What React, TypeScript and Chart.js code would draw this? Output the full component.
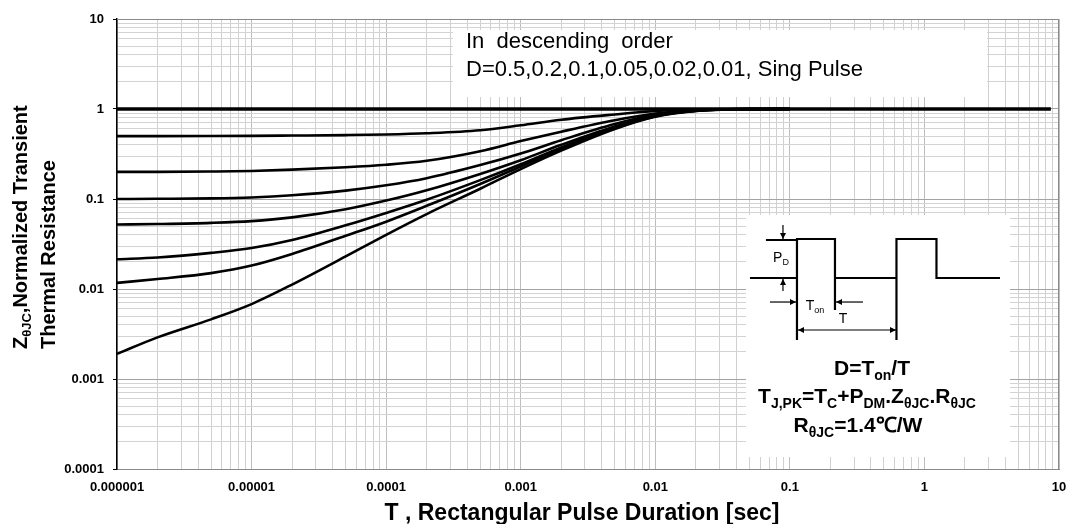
import React, { useEffect, useRef } from "react";
import { Chart, registerables } from "chart.js";

Chart.register(...registerables);

const FONT = "'Liberation Sans', Arial, Helvetica, sans-serif";

// ---- data ----
const pulseDurations = [1e-6, 2e-6, 5e-6, 1e-5, 2e-5, 5e-5, 1e-4, 2e-4, 5e-4, 1e-3, 2e-3, 5e-3, 1e-2, 2e-2, 5e-2, 1e-1];
const zD050 = [0.5, 0.5, 0.501, 0.503, 0.507, 0.513, 0.521, 0.537, 0.58, 0.66, 0.76, 0.87, 0.95, 0.99, 1.0, 1.0];
const zD020 = [0.2, 0.2, 0.202, 0.205, 0.212, 0.225, 0.24, 0.266, 0.34, 0.44, 0.56, 0.75, 0.89, 0.975, 1.0, 1.0];
const zD010 = [0.1, 0.1005, 0.1015, 0.104, 0.11, 0.124, 0.142, 0.17, 0.238, 0.32, 0.45, 0.68, 0.86, 0.965, 0.998, 1.0];
const zD005 = [0.052, 0.0527, 0.0543, 0.0568, 0.0625, 0.077, 0.096, 0.125, 0.19, 0.27, 0.4, 0.64, 0.845, 0.96, 0.997, 1.0];
const zD002 = [0.0214, 0.0224, 0.0252, 0.0285, 0.035, 0.051, 0.07, 0.098, 0.162, 0.243, 0.375, 0.62, 0.835, 0.955, 0.996, 1.0];
const zD001 = [0.0117, 0.0129, 0.015, 0.0182, 0.0245, 0.039, 0.056, 0.084, 0.147, 0.23, 0.36, 0.61, 0.83, 0.952, 0.995, 1.0];
const zSingle = [0.0019, 0.0029, 0.0046, 0.0068, 0.0112, 0.023, 0.04, 0.068, 0.13, 0.215, 0.345, 0.6, 0.82, 0.95, 0.995, 1.0];
const unityDurations = [1e-6, 8.7];
const unityValues = [1, 1];

const X_MIN_EXP = -6;
const X_MAX_EXP = 1;
const Y_MIN_EXP = -4;
const Y_MAX_EXP = 1;
const xTickLabels = ["0.000001", "0.00001", "0.0001", "0.001", "0.01", "0.1", "1", "10"];
const yTickLabels = ["0.0001", "0.001", "0.01", "0.1", "1", "10"];
const legendLines = ["In  descending  order", "D=0.5,0.2,0.1,0.05,0.02,0.01, Sing Pulse"];

type Seg = { t: string; sub?: boolean };
const yTitle1: Seg[] = [{ t: "Z" }, { t: "θJC", sub: true }, { t: ",Normalized Transient" }];
const yTitle2: Seg[] = [{ t: "Thermal Resistance" }];
const xTitle = "T , Rectangular Pulse Duration [sec]";
const insetLine1: Seg[] = [{ t: "D=T" }, { t: "on", sub: true }, { t: "/T" }];
const insetLine2: Seg[] = [
  { t: "T" }, { t: "J,PK", sub: true }, { t: "=T" }, { t: "C", sub: true }, { t: "+P" },
  { t: "DM", sub: true }, { t: ".Z" }, { t: "θJC", sub: true }, { t: ".R" }, { t: "θJC", sub: true },
];
const insetLine3: Seg[] = [{ t: "R" }, { t: "θJC", sub: true }, { t: "=1.4℃/W" }];

// ---- helpers ----
function logTicks(minExp: number, maxExp: number): number[] {
  const out: number[] = [];
  for (let e = minExp; e < maxExp; e++) {
    for (let m = 1; m < 10; m++) out.push(Number(`${m}e${e}`));
  }
  out.push(Number(`1e${maxExp}`));
  return out;
}
function isDecade(v: number): boolean {
  const l = Math.log10(v);
  return Math.abs(l - Math.round(l)) < 1e-9;
}

function drawRich(ctx: CanvasRenderingContext2D, segs: Seg[], x: number, y: number, size: number, weight: string, align: "left" | "center") {
  const mainF = `${weight} ${size}px ${FONT}`;
  const subF = `${weight} ${Math.round(size * 0.65)}px ${FONT}`;
  let total = 0;
  const widths = segs.map((s) => {
    ctx.font = s.sub ? subF : mainF;
    const w = ctx.measureText(s.t).width;
    total += w;
    return w;
  });
  let cx = align === "center" ? x - total / 2 : x;
  ctx.textAlign = "left";
  ctx.textBaseline = "alphabetic";
  segs.forEach((s, i) => {
    ctx.font = s.sub ? subF : mainF;
    ctx.fillText(s.t, cx, s.sub ? y + size * 0.22 : y);
    cx += widths[i];
  });
}

function arrow(ctx: CanvasRenderingContext2D, x1: number, y1: number, x2: number, y2: number, head = 6) {
  ctx.beginPath();
  ctx.moveTo(x1, y1);
  ctx.lineTo(x2, y2);
  ctx.stroke();
  const ang = Math.atan2(y2 - y1, x2 - x1);
  ctx.beginPath();
  ctx.moveTo(x2, y2);
  ctx.lineTo(x2 - head * Math.cos(ang) + 3 * Math.sin(ang), y2 - head * Math.sin(ang) - 3 * Math.cos(ang));
  ctx.lineTo(x2 - head * Math.cos(ang) - 3 * Math.sin(ang), y2 - head * Math.sin(ang) + 3 * Math.cos(ang));
  ctx.closePath();
  ctx.fill();
}

// boxes as fractions of the plot area
const LEGEND_BOX = { l: 0.3567, r: 0.9236, t: 0.0244, b: 0.1733 };
const INSET_BOX = { l: 0.6677, r: 0.948, t: 0.4356, b: 0.9733 };
function boxRect(a: any, b: typeof LEGEND_BOX) {
  const w = a.right - a.left;
  const h = a.bottom - a.top;
  return { x: a.left + b.l * w, y: a.top + b.t * h, w: (b.r - b.l) * w, h: (b.b - b.t) * h };
}

const decorPlugin = {
  id: "decor",
  beforeDatasetsDraw(chart: any) {
    const { ctx, chartArea: a } = chart;
    ctx.save();
    ctx.fillStyle = "#ffffff";
    for (const b of [LEGEND_BOX, INSET_BOX]) {
      const r = boxRect(a, b);
      ctx.fillRect(r.x, r.y, r.w, r.h);
    }
    ctx.strokeStyle = "#8a8a8a";
    ctx.lineWidth = 1;
    ctx.beginPath();
    ctx.moveTo(a.left, a.top + 0.5);
    ctx.lineTo(a.right - 0.5, a.top + 0.5);
    ctx.lineTo(a.right - 0.5, a.bottom);
    ctx.stroke();
    ctx.restore();
  },
  afterDatasetsDraw(chart: any) {
    const { ctx, chartArea: a } = chart;
    ctx.save();
    ctx.fillStyle = "#000";
    ctx.strokeStyle = "#000";

    // legend text
    const lb = boxRect(a, LEGEND_BOX);
    ctx.font = `22px ${FONT}`;
    ctx.textAlign = "left";
    ctx.textBaseline = "alphabetic";
    ctx.fillText(legendLines[0], lb.x + 13, lb.y + 18);
    ctx.fillText(legendLines[1], lb.x + 13, lb.y + 46);

    // inset
    const ib = boxRect(a, INSET_BOX);
    const ox = ib.x;
    const oy = ib.y;
    const lowY = oy + 63;
    const highY = oy + 24;
    ctx.lineWidth = 2.2;
    ctx.beginPath();
    ctx.moveTo(ox + 4, lowY); ctx.lineTo(ox + 51, lowY);
    ctx.moveTo(ox + 20, highY + 1); ctx.lineTo(ox + 51, highY + 1);
    ctx.moveTo(ox + 51, oy + 125); ctx.lineTo(ox + 51, highY);
    ctx.lineTo(ox + 89, highY); ctx.lineTo(ox + 89, oy + 95);
    ctx.moveTo(ox + 89, lowY); ctx.lineTo(ox + 150.5, lowY);
    ctx.moveTo(ox + 150.5, oy + 125); ctx.lineTo(ox + 150.5, highY);
    ctx.lineTo(ox + 190.5, highY); ctx.lineTo(ox + 190.5, lowY);
    ctx.lineTo(ox + 254, lowY);
    ctx.stroke();

    ctx.lineWidth = 1.2;
    arrow(ctx, ox + 37, oy + 10, ox + 37, highY);
    arrow(ctx, ox + 37, oy + 76, ox + 37, lowY + 1);
    arrow(ctx, ox + 24, oy + 87, ox + 50, oy + 87);
    arrow(ctx, ox + 117, oy + 87, ox + 90, oy + 87);
    arrow(ctx, ox + 100, oy + 115, ox + 52, oy + 115);
    arrow(ctx, ox + 100, oy + 115, ox + 150, oy + 115);

    drawRich(ctx, [{ t: "P" }, { t: "D", sub: true }], ox + 35, oy + 47, 14, "normal", "center");
    drawRich(ctx, [{ t: "T" }, { t: "on", sub: true }], ox + 69, oy + 95, 14, "normal", "center");
    drawRich(ctx, [{ t: "T" }], ox + 97, oy + 108, 14, "normal", "center");

    drawRich(ctx, insetLine1, ox + 126, oy + 160, 21, "bold", "center");
    drawRich(ctx, insetLine2, ox + 121, oy + 188, 21, "bold", "center");
    drawRich(ctx, insetLine3, ox + 112, oy + 217, 21, "bold", "center");

    // axis titles
    ctx.save();
    ctx.translate(27, 349);
    ctx.rotate(-Math.PI / 2);
    drawRich(ctx, yTitle1, 0, 0, 20, "bold", "left");
    ctx.restore();
    ctx.save();
    ctx.translate(55, 349);
    ctx.rotate(-Math.PI / 2);
    drawRich(ctx, yTitle2, 0, 0, 20, "bold", "left");
    ctx.restore();

    ctx.font = `bold 23px ${FONT}`;
    ctx.textAlign = "center";
    ctx.textBaseline = "alphabetic";
    ctx.fillText(xTitle, 582, 520);
    ctx.restore();
  },
};

export default function App() {
  const ref = useRef<HTMLCanvasElement>(null);

  useEffect(() => {
    const canvas = ref.current;
    if (!canvas) return;
    const toPts = (xs: number[], ys: number[]) => xs.map((x, i) => ({ x, y: ys[i] }));
    const series = [
      { label: "1", data: toPts(unityDurations, unityValues), w: 3.5 },
      { label: "D=0.5", data: toPts(pulseDurations, zD050), w: 2.6 },
      { label: "D=0.2", data: toPts(pulseDurations, zD020), w: 2.6 },
      { label: "D=0.1", data: toPts(pulseDurations, zD010), w: 2.6 },
      { label: "D=0.05", data: toPts(pulseDurations, zD005), w: 2.6 },
      { label: "D=0.02", data: toPts(pulseDurations, zD002), w: 2.6 },
      { label: "D=0.01", data: toPts(pulseDurations, zD001), w: 2.6 },
      { label: "Single Pulse", data: toPts(pulseDurations, zSingle), w: 2.6 },
    ];

    const tickFont = { family: FONT, size: 13, weight: "bold" as const };

    const chart = new Chart(canvas, {
      type: "line",
      data: {
        datasets: series.map((s) => ({
          label: s.label,
          data: s.data,
          borderColor: "#000",
          backgroundColor: "#000",
          borderWidth: s.w,
          pointRadius: 0,
          fill: false,
          cubicInterpolationMode: "monotone" as const,
        })),
      },
      options: {
        responsive: false,
        animation: false,
        events: [],
        layout: { padding: { left: 0, top: 19, right: 11, bottom: 0 } },
        plugins: { legend: { display: false }, tooltip: { enabled: false } },
        scales: {
          x: {
            type: "logarithmic",
            min: Number(`1e${X_MIN_EXP}`),
            max: Number(`1e${X_MAX_EXP}`),
            afterBuildTicks: (scale: any) => {
              scale.ticks = logTicks(X_MIN_EXP, X_MAX_EXP).map((v) => ({ value: v, major: isDecade(v) }));
            },
            afterFit: (scale: any) => {
              scale.height = 55;
              scale.paddingLeft = 0;
              scale.paddingRight = 0;
            },
            grid: {
              color: (c: any) => (c.tick && isDecade(c.tick.value) ? "#bdbdbd" : "#d0d0d0"),
              lineWidth: 1,
              drawTicks: false,
            },
            border: { color: "#8a8a8a", width: 1 },
            ticks: {
              autoSkip: false,
              maxRotation: 0,
              minRotation: 0,
              padding: 11,
              color: "#000",
              font: tickFont,
              callback: (v: any) => (isDecade(Number(v)) ? xTickLabels[Math.round(Math.log10(Number(v))) - X_MIN_EXP] : ""),
            },
          },
          y: {
            type: "logarithmic",
            min: Number(`1e${Y_MIN_EXP}`),
            max: Number(`1e${Y_MAX_EXP}`),
            afterBuildTicks: (scale: any) => {
              scale.ticks = logTicks(Y_MIN_EXP, Y_MAX_EXP).map((v) => ({ value: v, major: isDecade(v) }));
            },
            afterFit: (scale: any) => {
              scale.width = 117;
              scale.paddingTop = 0;
              scale.paddingBottom = 0;
            },
            grid: {
              color: (c: any) => (c.tick && isDecade(c.tick.value) ? "#a3a3a3" : "#d3d3d3"),
              lineWidth: 1,
              drawTicks: true,
              tickLength: 4,
              tickColor: (c: any) => (c.tick && isDecade(c.tick.value) ? "#000" : "rgba(0,0,0,0)"),
            },
            border: { color: "#000", width: 1.5 },
            ticks: {
              autoSkip: false,
              padding: 9,
              color: "#000",
              font: tickFont,
              callback: (v: any) => (isDecade(Number(v)) ? yTickLabels[Math.round(Math.log10(Number(v))) - Y_MIN_EXP] : ""),
            },
          },
        },
      },
      plugins: [decorPlugin],
    } as any);

    return () => chart.destroy();
  }, []);

  return (
    <div style={{ position: "absolute", left: 0, top: 0, width: 1070, height: 524, background: "#fff" }}>
      <canvas ref={ref} width={1070} height={524} style={{ display: "block" }} />
    </div>
  );
}
